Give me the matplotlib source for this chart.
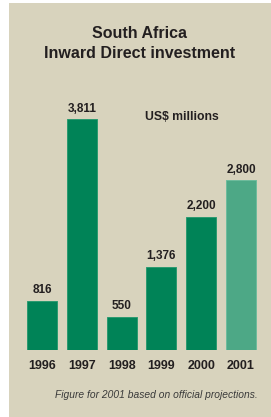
import matplotlib
matplotlib.use("Agg")
import matplotlib.pyplot as plt
from matplotlib import font_manager as fm
from matplotlib.patches import Rectangle

# data
years = ["1996", "1997", "1998", "1999", "2000", "2001"]
values = [816, 3811, 550, 1376, 2200, 2800]
projected = [False, False, False, False, False, True]


def lib_font(bold=False, italic=False):
    # pick Liberation Sans (not Narrow) file directly
    for f in fm.fontManager.ttflist:
        if f.name != "Liberation Sans" or "Narrow" in f.fname:
            continue
        b = f.weight in (700, "bold")
        i = f.style == "italic"
        if b == bold and i == italic:
            return f.fname
    return None


W, H = 271, 417
txt = "#231f20"
fb = fm.FontProperties(fname=lib_font(bold=True))
fi = fm.FontProperties(fname=lib_font(italic=True))

fig = plt.figure(figsize=(W / 100, H / 100), dpi=100)
fig.patch.set_facecolor("white")
# beige panel
fig.add_artist(Rectangle((9 / W, 0), 1 - 9 / W, 1 - 3 / H, transform=fig.transFigure,
                         facecolor="#d8d3bd", edgecolor="none", zorder=0))

# bar area, pixel geometry from the reference
step = 39.8          # px between bar centres
first = 42           # px of first centre
base = 350           # px of baseline from top
scale = 0.06063      # px per US$ million
ax = fig.add_axes([0, (H - base) / H, 1, base / H])
ax.set_facecolor("none")
ax.set_xlim(-first / step, (W - first) / step)
ax.set_ylim(0, base / scale)

xs = list(range(len(years)))
cols = ["#4da886" if p else "#008357" for p in projected]
edges = ["#6dbb9c" if p else "#2a9a70" for p in projected]
ax.bar(xs, values, width=30 / step, color=cols, edgecolor=edges, linewidth=0.7)

for x, v in zip(xs, values):
    ax.annotate(f"{v:,}", (x, v), xytext=(0, 5.3), textcoords="offset points",
                ha="center", va="baseline", fontproperties=fb, fontsize=8.5, color=txt)

ax.set_xticks(xs)
ax.set_xticklabels(years, fontproperties=fb, fontsize=9, color=txt)
ax.tick_params(axis="x", length=0, pad=7.5)
ax.set_yticks([])
for s in ax.spines.values():
    s.set_visible(False)

fig.text(140 / W, 1 - 33 / H, "South Africa", ha="center", va="center",
         fontproperties=fb, fontsize=11.5, color=txt)
fig.text(140 / W, 1 - 53 / H, "Inward Direct investment", ha="center", va="center",
         fontproperties=fb, fontsize=11.5, color=txt)
fig.text(182 / W, 1 - 117 / H, "US$ millions", ha="center", va="center",
         fontproperties=fb, fontsize=8.8, color=txt)
fig.text(156 / W, 1 - 395 / H, "Figure for 2001 based on official projections.",
         ha="center", va="center", fontproperties=fi, fontsize=7.4, color="#3a3a3a")

fig.savefig("out.png", dpi=100)
